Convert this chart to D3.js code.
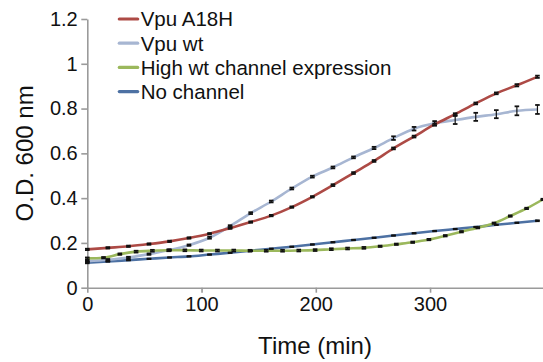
<!DOCTYPE html>
<html>
<head>
<meta charset="utf-8">
<script src="https://cdn.jsdelivr.net/npm/d3@7"></script>
<style>
  html, body { margin: 0; padding: 0; background: #fff; }
  svg { display: block; font-family: "Liberation Sans", Arial, Helvetica, sans-serif; }
</style>
</head>
<body>
<svg id="chart" width="543" height="362"></svg>
<script>
// Sampling times (min)
const timesMain = [0, 18, 36, 54, 72, 89, 107, 125, 143, 161, 179, 197, 215, 233, 251, 268, 286, 304, 322, 340, 358, 376, 394];
const timesHigh = [0, 14.2, 28.5, 42.7, 57, 71.2, 85.4, 99.7, 113.9, 128.2, 142.4, 156.6, 170.9, 185.1, 199.4, 213.6, 227.8, 242.1, 256.3, 270.5, 284.8, 299, 313.3, 327.5, 341.8, 356, 370.2, 384.5, 398.7];

// O.D. 600 nm readings
const vpuA18H = [0.171, 0.178, 0.185, 0.195, 0.207, 0.222, 0.241, 0.266, 0.293, 0.322, 0.360, 0.406, 0.458, 0.512, 0.566, 0.622, 0.675, 0.729, 0.775, 0.823, 0.868, 0.904, 0.942];
const vpuA18HErr = [0.003, 0.003, 0.003, 0.003, 0.003, 0.003, 0.003, 0.003, 0.003, 0.003, 0.003, 0.003, 0.004, 0.004, 0.004, 0.004, 0.004, 0.004, 0.004, 0.004, 0.004, 0.005, 0.005];

const vpuWt = [0.118, 0.125, 0.135, 0.150, 0.168, 0.190, 0.223, 0.275, 0.333, 0.385, 0.443, 0.496, 0.537, 0.582, 0.624, 0.668, 0.710, 0.734, 0.749, 0.763, 0.775, 0.790, 0.796];
const vpuWtErr = [0.003, 0.003, 0.003, 0.003, 0.003, 0.003, 0.004, 0.004, 0.004, 0.004, 0.004, 0.004, 0.004, 0.004, 0.005, 0.008, 0.008, 0.010, 0.018, 0.018, 0.018, 0.020, 0.020];

const highWt = [0.131, 0.134, 0.150, 0.161, 0.165, 0.167, 0.167, 0.166, 0.166, 0.166, 0.165, 0.165, 0.165, 0.166, 0.168, 0.172, 0.175, 0.178, 0.185, 0.194, 0.203, 0.215, 0.232, 0.250, 0.268, 0.288, 0.320, 0.354, 0.394];
const highWtErr = [0.004, 0.003, 0.003, 0.004, 0.004, 0.004, 0.004, 0.004, 0.004, 0.004, 0.004, 0.004, 0.004, 0.004, 0.004, 0.004, 0.004, 0.004, 0.003, 0.003, 0.003, 0.003, 0.003, 0.003, 0.003, 0.003, 0.003, 0.003, 0.003];

const noChannel = [0.112, 0.117, 0.123, 0.129, 0.135, 0.140, 0.148, 0.156, 0.165, 0.174, 0.183, 0.193, 0.203, 0.213, 0.223, 0.233, 0.243, 0.253, 0.262, 0.271, 0.281, 0.290, 0.299];
const noChannelErr = [0.003, 0.001, 0.001, 0.001, 0.001, 0.001, 0.001, 0.001, 0.001, 0.001, 0.001, 0.001, 0.001, 0.001, 0.001, 0.001, 0.001, 0.001, 0.001, 0.001, 0.001, 0.001, 0.002];

const seriesNames = ["Vpu A18H", "Vpu wt", "High wt channel expression", "No channel"];
const seriesColors = ["#ad4a45", "#a7b6d2", "#9bb85c", "#4d71a3"];

const xTicks = [0, 100, 200, 300];
const xTickLabels = ["0", "100", "200", "300"];
const yTicks = [0, 0.2, 0.4, 0.6, 0.8, 1.0, 1.2];
const yTickLabels = ["0", "0.2", "0.4", "0.6", "0.8", "1", "1.2"];

const series = [
  { name: seriesNames[3], color: seriesColors[3], t: timesMain, v: noChannel, e: noChannelErr },
  { name: seriesNames[1], color: seriesColors[1], t: timesMain, v: vpuWt, e: vpuWtErr },
  { name: seriesNames[0], color: seriesColors[0], t: timesMain, v: vpuA18H, e: vpuA18HErr },
  { name: seriesNames[2], color: seriesColors[2], t: timesHigh, v: highWt, e: highWtErr }
];

const svg = d3.select("#chart");
const axisColor = "#9a9a9a";

const x = d3.scaleLinear().domain([0, 400]).range([87.3, 544.3]);
const y = d3.scaleLinear().domain([0, 1.2]).range([287.7, 19]);

// Axes
const xAxis = d3.axisBottom(x).tickValues(xTicks).tickFormat((d, i) => xTickLabels[i])
  .tickSizeInner(5).tickSizeOuter(0).tickPadding(4.5);
const yAxis = d3.axisLeft(y).tickValues(yTicks).tickFormat((d, i) => yTickLabels[i])
  .tickSizeInner(6).tickSizeOuter(0).tickPadding(3.6);

const gx = svg.append("g").attr("transform", `translate(0,${y(0)})`).call(xAxis);
const gy = svg.append("g").attr("transform", `translate(${x(0)},0)`).call(yAxis);
[gx, gy].forEach(g => {
  g.select(".domain").attr("stroke", axisColor).attr("stroke-width", 1.6);
  g.selectAll(".tick line").attr("stroke", axisColor).attr("stroke-width", 1.6);
  g.selectAll(".tick text").attr("fill", "#111").attr("font-size", 20)
    .attr("font-family", "Liberation Sans, Arial, sans-serif");
});

// Axis titles
svg.append("text")
  .attr("x", 315).attr("y", 354)
  .attr("text-anchor", "middle")
  .attr("font-size", 24).attr("fill", "#111")
  .text("Time (min)");
svg.append("text")
  .attr("transform", `translate(33,${(y(0) + y(1.2)) / 2}) rotate(-90)`)
  .attr("text-anchor", "middle")
  .attr("font-size", 24).attr("fill", "#111")
  .text("O.D. 600 nm");

// Growth curves
const plot = svg.append("g");
series.forEach(s => {
  const pts = s.t.map((t, i) => ({ t, v: s.v[i], e: s.e[i] }));
  const line = d3.line().x(d => x(d.t)).y(d => y(d.v)).curve(d3.curveMonotoneX);
  plot.append("path")
    .datum(pts)
    .attr("fill", "none")
    .attr("stroke", s.color)
    .attr("stroke-width", 2.6)
    .attr("d", line);
  s.pts = pts;
});

// Error bars
series.forEach(s => {
  const g = plot.append("g");
  const cap = 2.3;
  s.pts.forEach(d => {
    const cx = x(d.t), y1 = y(d.v + d.e), y2 = y(d.v - d.e);
    g.append("line").attr("x1", cx).attr("x2", cx).attr("y1", y1).attr("y2", y2)
      .attr("stroke", "#111").attr("stroke-width", 1.2);
    g.append("line").attr("x1", cx - cap).attr("x2", cx + cap).attr("y1", y1).attr("y2", y1)
      .attr("stroke", "#111").attr("stroke-width", 1.8);
    g.append("line").attr("x1", cx - cap).attr("x2", cx + cap).attr("y1", y2).attr("y2", y2)
      .attr("stroke", "#111").attr("stroke-width", 1.8);
  });
});

// Legend
const legend = svg.append("g");
seriesNames.forEach((name, i) => {
  const cy = 19 + i * 24.2;
  legend.append("line")
    .attr("x1", 119.3).attr("x2", 137.7).attr("y1", cy).attr("y2", cy)
    .attr("stroke", seriesColors[i]).attr("stroke-width", 3.2).attr("stroke-linecap", "round");
  legend.append("text")
    .attr("x", 140.7).attr("y", cy).attr("dy", "0.36em")
    .attr("font-size", 20.5).attr("fill", "#111")
    .text(name);
});
</script>
</body>
</html>
